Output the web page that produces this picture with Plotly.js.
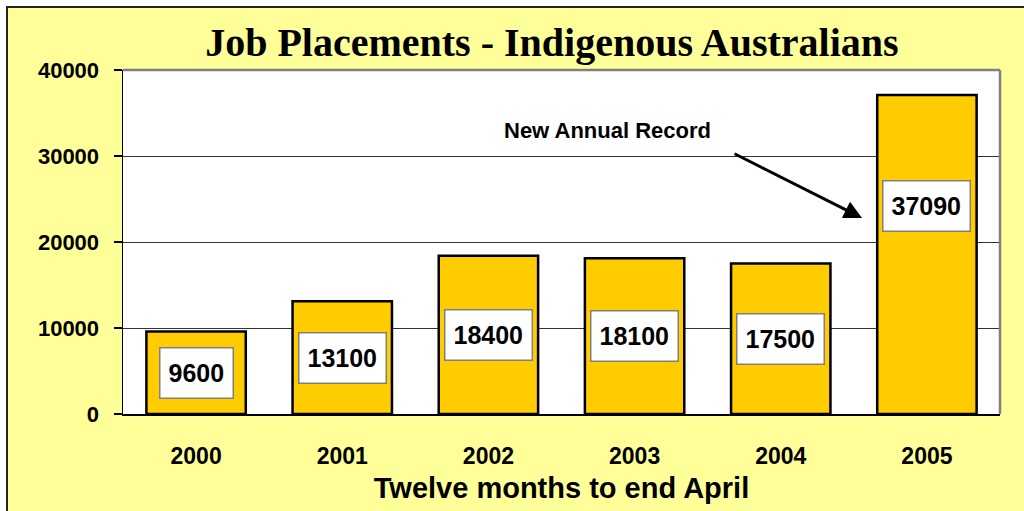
<!DOCTYPE html>
<html>
<head>
<meta charset="utf-8">
<script src="https://cdn.plot.ly/plotly-3.0.1.min.js"></script>
<style>
  html, body { margin: 0; padding: 0; background: #ffffff; width: 1024px; height: 511px; overflow: hidden; }
  #panel { position: absolute; left: 6px; top: 6px; width: 1018px; height: 505px; background: #FFFF99;
           border-left: 2px solid #222222; border-top: 2px solid #222222; }
  #chart { position: absolute; left: 0; top: 0; width: 1016px; height: 503px; }
</style>
</head>
<body>
<div id="panel"><div id="chart"></div></div>
<script>
// Data
const years = ["2000", "2001", "2002", "2003", "2004", "2005"];
const placements = [9600, 13100, 18400, 18100, 17500, 37090];
const yTicks = [0, 10000, 20000, 30000, 40000];
const chartTitle = "Job Placements - Indigenous Australians";
const xTitle = "Twelve months to end April";
const noteText = "New Annual Record";

const sans = "Liberation Sans, Arial, sans-serif";
const serif = "Liberation Serif, Times New Roman, serif";

const idx = years.map((_, i) => i);

const trace = {
  type: "bar",
  x: idx,
  y: placements,
  width: 0.68,
  marker: { color: "#FFCC00", line: { color: "#000000", width: 2.5 } },
  hoverinfo: "y"
};

// value labels in white boxes, centred at half the bar height (last one raised)
const labelAnns = years.map((yr, i) => ({
  x: i, y: placements[i] / 2, xref: "x", yref: "y",
  xanchor: "center", yanchor: "middle",
  text: String(placements[i]),
  showarrow: false,
  height: 33,
  font: { family: sans, size: 25, color: "#000000", weight: "bold" },
  bgcolor: "#ffffff", bordercolor: "#808080", borderwidth: 1.5, borderpad: 8,
  yshift: i === years.length - 1 ? 49 : 0
}));

const noteAnn = {
  xref: "paper", yref: "paper", x: 0.5525, y: 0.824,
  xanchor: "center", yanchor: "middle",
  text: noteText, showarrow: false,
  font: { family: sans, size: 22, color: "#000000", weight: "bold" }
};

const arrowAnn = {
  xref: "paper", yref: "paper", x: 0.8427, y: 0.5698,
  text: "", showarrow: true, ax: -129, ay: -65,
  arrowhead: 2, arrowsize: 1.2, arrowwidth: 3, arrowcolor: "#000000", standoff: 0
};

const layout = {
  width: 1016, height: 503,
  margin: { l: 115, r: 24, t: 62, b: 97 },
  paper_bgcolor: "#FFFF99",
  plot_bgcolor: "#ffffff",
  showlegend: false,
  title: {
    text: chartTitle,
    font: { family: serif, size: 40, color: "#000000", weight: "bold" },
    xref: "paper", x: 0.489, xanchor: "center",
    yref: "container", y: 0.932, yanchor: "middle"
  },
  xaxis: {
    type: "linear", range: [-0.5, years.length - 0.5],
    tickvals: idx, ticktext: years,
    showline: true, linecolor: "#000000", linewidth: 1.5,
    ticks: "", showgrid: false, zeroline: false,
    tickfont: { family: sans, size: 23, color: "#000000", weight: "bold" },
    ticklabelstandoff: 21,
    title: { text: xTitle, standoff: 9,
             font: { family: sans, size: 29, color: "#000000", weight: "bold" } }
  },
  yaxis: {
    range: [0, 40000], tickvals: yTicks, ticktext: yTicks.map(String),
    showline: true, linecolor: "#000000", linewidth: 1.5,
    ticks: "outside", ticklen: 8, tickcolor: "#000000", tickwidth: 1.5,
    showgrid: true, gridcolor: "#333333", gridwidth: 1, zeroline: false,
    tickfont: { family: sans, size: 22, color: "#000000", weight: "bold" },
    ticklabelstandoff: 10
  },
  shapes: [
    { type: "line", xref: "paper", yref: "paper", x0: 0, x1: 1, y0: 1, y1: 1,
      line: { color: "#808080", width: 2.5 } },
    { type: "line", xref: "paper", yref: "paper", x0: 1, x1: 1, y0: 0, y1: 1,
      line: { color: "#808080", width: 2.5 } }
  ],
  annotations: labelAnns.concat([noteAnn, arrowAnn])
};

Plotly.newPlot("chart", [trace], layout, { displayModeBar: false, staticPlot: true });
</script>
</body>
</html>
